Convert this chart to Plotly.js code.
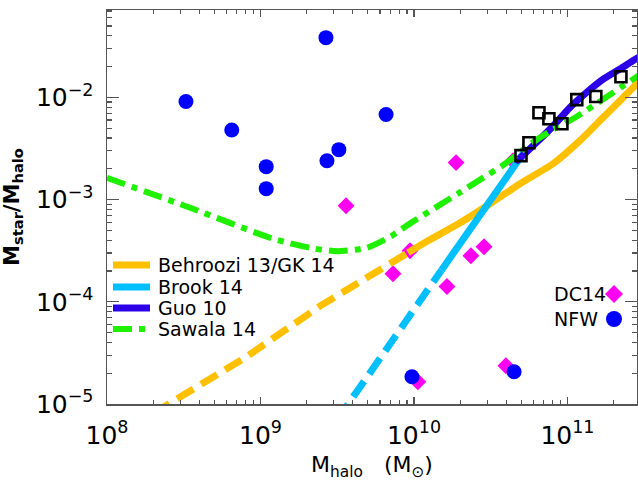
<!DOCTYPE html>
<html>
<head>
<meta charset="utf-8">
<script src="https://cdn.plot.ly/plotly-3.0.1.min.js"></script>
<style>
  html, body { margin: 0; padding: 0; background: #fff; }
  #chart { width: 638px; height: 481px; }
</style>
</head>
<body>
<div id="chart"></div>
<script>
// Stellar-to-halo mass ratio versus halo mass

// NFW-profile galaxies (filled circles)
const nfwMass  = [3.27e8, 6.5e8, 1.09e9, 1.09e9, 2.67e9, 2.71e9, 3.24e9, 6.58e9, 9.7e9, 4.49e10];
const nfwRatio = [9.1e-3, 4.8e-3, 2.1e-3, 1.28e-3, 3.84e-2, 2.4e-3, 3.08e-3, 6.8e-3, 1.85e-5, 2.07e-5];

// DC14-profile galaxies (diamonds)
const dc14Mass  = [1.88e10, 3.61e9, 9.42e9, 7.3e9, 2.35e10, 2.86e10, 1.64e10, 4.42e10, 1.06e10, 3.97e10];
const dc14Ratio = [2.3e-3, 8.7e-4, 3.16e-4, 1.88e-4, 2.82e-4, 3.46e-4, 1.41e-4, 2.4e-3, 1.65e-5, 2.37e-5];

// Massive galaxies (open squares)
const sqMass  = [4.98e10, 5.61e10, 6.52e10, 7.57e10, 9.2e10, 1.15e11, 1.53e11, 2.23e11];
const sqRatio = [2.69e-3, 3.6e-3, 7.08e-3, 6.19e-3, 5.53e-3, 9.5e-3, 1.02e-2, 1.59e-2];

// Behroozi 13 / GK 14: extrapolated (dashed) and fitted (solid) parts
const behExtMass  = [2.0e8, 7.94e8, 2.45e9, 9.14e9];
const behExtRatio = [8.1e-6, 2.84e-5, 9.12e-5, 3.02e-4];
const behMass  = [9.14e9, 1.233e10, 2.0e10, 3.13e10, 4.91e10, 8.05e10, 1.205e11, 1.70e11, 2.30e11, 2.84e11, 3.2e11];
const behRatio = [3.02e-4, 3.95e-4, 5.93e-4, 9.1e-4, 1.43e-3, 2.24e-3, 3.77e-3, 6.32e-3, 9.93e-3, 1.36e-2, 1.6e-2];

// Brook 14
const brookExtMass  = [3.16e9, 1.51e10];
const brookExtRatio = [7.0e-6, 2.04e-4];
const brookMass  = [1.51e10, 5.25e10];
const brookRatio = [2.04e-4, 2.95e-3];

// Guo 10
const guoMass  = [4.57e10, 4.91e10, 6.30e10, 8.09e10, 1.038e11, 1.334e11, 1.71e11, 2.20e11, 2.82e11, 3.16e11];
const guoRatio = [2.34e-3, 2.55e-3, 3.63e-3, 5.28e-3, 7.98e-3, 1.12e-2, 1.51e-2, 1.90e-2, 2.40e-2, 2.63e-2];

// Sawala 14
const sawMass  = [1e8, 3.48e8, 1.205e9, 2.24e9, 3.16e9, 4.94e9, 7.08e9, 9.55e9, 1.371e10, 1.936e10,
                  2.73e10, 3.92e10, 5.78e10, 7.82e10, 1.119e11, 1.652e11, 2.59e11, 3.16e11];
const sawRatio = [1.633e-3, 8.32e-4, 4.14e-4, 3.31e-4, 3.13e-4, 3.38e-4, 4.37e-4, 5.92e-4, 8.30e-4, 1.143e-3,
                  1.585e-3, 2.24e-3, 3.52e-3, 4.72e-3, 6.32e-3, 9.29e-3, 1.459e-2, 1.78e-2];

// Axis ticks
const xTickVals = [1e8, 1e9, 1e10, 1e11];
const xTickText = ['10<sup>8</sup>', '10<sup>9</sup>', '10<sup>10</sup>', '10<sup>11</sup>'];
const yTickVals = [1e-5, 1e-4, 1e-3, 1e-2];
const yTickText = ['10<sup>\u22125</sup>', '10<sup>\u22124</sup>', '10<sup>\u22123</sup>', '10<sup>\u22122</sup>'];

// Line legend entries
const lineNames = ['Behroozi 13/GK 14', 'Brook 14', 'Guo 10', 'Sawala 14'];

const C_ORANGE = '#ffc000';
const C_CYAN = '#00bfff';
const C_GUO = '#2b00e8';
const C_GREEN = '#1ef000';
const C_MAGENTA = '#ff00f0';
const C_BLUE = '#0000ff';
const AXIS = '#555555';
const DASH = '19px,9px';
const DASHDOT = '19px,7px,6px,7px';

function minorTicks(lo, hi) {
  const out = [];
  for (let e = lo; e < hi; e++) {
    for (let m = 2; m <= 9; m++) out.push(m * Math.pow(10, e));
  }
  return out;
}

const traces = [
  { x: dc14Mass, y: dc14Ratio, mode: 'markers', name: 'DC14',
    marker: { symbol: 'diamond', size: 13, color: C_MAGENTA, line: { width: 0 } } },
  { x: behExtMass, y: behExtRatio, mode: 'lines',
    line: { color: C_ORANGE, width: 7, dash: DASH } },
  { x: behMass, y: behRatio, mode: 'lines', name: lineNames[0],
    line: { color: C_ORANGE, width: 7, shape: 'spline', smoothing: 0.6 } },
  { x: brookExtMass, y: brookExtRatio, mode: 'lines',
    line: { color: C_CYAN, width: 7, dash: DASH } },
  { x: brookMass, y: brookRatio, mode: 'lines', name: lineNames[1],
    line: { color: C_CYAN, width: 7 } },
  { x: guoMass, y: guoRatio, mode: 'lines', name: lineNames[2],
    line: { color: C_GUO, width: 7, shape: 'spline', smoothing: 0.6 } },
  { x: sawMass, y: sawRatio, mode: 'lines', name: lineNames[3],
    line: { color: C_GREEN, width: 6, dash: DASHDOT, shape: 'spline', smoothing: 0.6 } },
  { x: nfwMass, y: nfwRatio, mode: 'markers', name: 'NFW',
    marker: { symbol: 'circle', size: 15, color: C_BLUE, line: { width: 0 } } },
  { x: sqMass, y: sqRatio, mode: 'markers',
    marker: { symbol: 'square-open', size: 11, color: '#000', line: { width: 2.6, color: '#000' } } }
];

// plot area: 107..637 px horizontally, 10..404 px vertically
const W = 530, H = 394;
const px = v => (v - 107) / W;
const py = v => (404 - v) / H;

const legendColors = [C_ORANGE, C_CYAN, C_GUO, C_GREEN];
const legendDash = ['solid', 'solid', 'solid', DASHDOT];
const legendRows = [265, 287, 308, 329];

const shapes = [];
const annotations = [];
lineNames.forEach((nm, i) => {
  shapes.push({
    type: 'line', xref: 'paper', yref: 'paper',
    x0: px(113), x1: px(150), y0: py(legendRows[i]), y1: py(legendRows[i]),
    line: { color: legendColors[i], width: i === 3 ? 6 : 7, dash: legendDash[i] }
  });
  annotations.push({
    xref: 'paper', yref: 'paper', x: px(156), y: py(legendRows[i]),
    xanchor: 'left', yanchor: 'middle', showarrow: false,
    text: nm, font: { family: 'DejaVu Sans', size: 19, color: '#000' }
  });
});

// marker legend (text left of the symbol)
annotations.push({
  xref: 'paper', yref: 'paper', x: px(552), y: py(294), xanchor: 'left', yanchor: 'middle',
  showarrow: false, text: 'DC14', font: { family: 'DejaVu Sans', size: 19, color: '#000' }
});
annotations.push({
  xref: 'paper', yref: 'paper', x: px(552), y: py(319), xanchor: 'left', yanchor: 'middle',
  showarrow: false, text: 'NFW', font: { family: 'DejaVu Sans', size: 19, color: '#000' }
});
shapes.push({
  type: 'path', xref: 'paper', yref: 'paper', xsizemode: 'pixel', ysizemode: 'pixel',
  xanchor: px(614), yanchor: py(294), path: 'M0,9 L9,0 L0,-9 L-9,0 Z',
  fillcolor: C_MAGENTA, line: { width: 0 }
});
shapes.push({
  type: 'circle', xref: 'paper', yref: 'paper', xsizemode: 'pixel', ysizemode: 'pixel',
  xanchor: px(614), yanchor: py(319), x0: -8, x1: 8, y0: -8, y1: 8,
  fillcolor: C_BLUE, line: { width: 0 }
});

const axisCommon = {
  type: 'log', showgrid: false, zeroline: false,
  showline: true, linecolor: AXIS, linewidth: 1.5, mirror: 'allticks',
  ticks: 'inside', tickcolor: AXIS, tickwidth: 1.3,
  tickmode: 'array',
  tickfont: { family: 'DejaVu Sans', size: 25, color: '#000' }
};

const layout = {
  width: 638, height: 481,
  margin: { l: 107, r: 1, t: 10, b: 77, pad: 0 },
  paper_bgcolor: '#fff', plot_bgcolor: '#fff',
  showlegend: false,
  font: { family: 'DejaVu Sans', color: '#000' },
  xaxis: Object.assign({}, axisCommon, {
    range: [8, 11.453],
    tickvals: xTickVals, ticktext: xTickText, ticklen: 7,
    minor: { tickmode: 'array', tickvals: minorTicks(8, 12), ticks: 'inside', ticklen: 4,
             tickcolor: AXIS, tickwidth: 1.2, showgrid: false },
    ticklabelstandoff: 8,
    title: { text: 'M<sub>halo</sub>\u00a0\u00a0\u00a0(M<sub>\u2299</sub>)', standoff: 16,
             font: { family: 'DejaVu Sans', size: 22, color: '#000' } }
  }),
  yaxis: Object.assign({}, axisCommon, {
    range: [-5, -1.145],
    tickvals: yTickVals, ticktext: yTickText, ticklen: 12,
    minor: { tickmode: 'array', tickvals: minorTicks(-5, -1), ticks: 'inside', ticklen: 5,
             tickcolor: AXIS, tickwidth: 1.2, showgrid: false },
    ticklabelstandoff: 7,
    title: { text: '<b>M<sub>star</sub>/M<sub>halo</sub></b>', standoff: 12,
             font: { family: 'DejaVu Sans', size: 21, color: '#000' } }
  }),
  shapes: shapes,
  annotations: annotations
};

Plotly.newPlot('chart', traces, layout, { displayModeBar: false, staticPlot: true });
</script>
</body>
</html>
